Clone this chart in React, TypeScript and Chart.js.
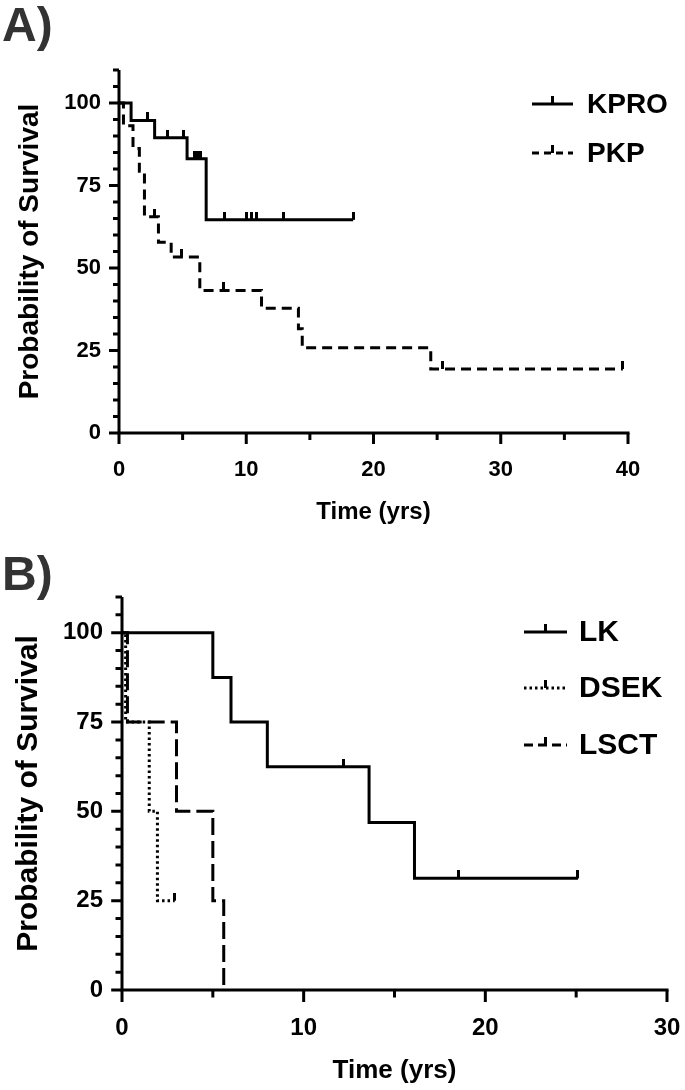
import React, { useEffect, useRef } from 'react';
import { Chart, registerables } from 'chart.js';

Chart.register(...registerables);

// ---------- Panel A data ----------
const kproTime = [0, 0.95, 2.8, 5.35, 6.85, 18.4];
const kproSurv = [100, 94.7, 89.5, 83.1, 64.6, 64.6];
const kproCensorTime = [2.25, 3.85, 5.1, 5.9, 6.15, 6.4, 8.3, 10.0, 10.4, 10.8, 12.9, 18.4];
const kproCensorSurv = [94.7, 89.5, 89.5, 83.1, 83.1, 83.1, 64.6, 64.6, 64.6, 64.6, 64.6, 64.6];

const pkpTime = [0, 0.35, 1.1, 1.6, 2.0, 3.1, 4.1, 6.35, 11.2, 14.1, 14.4, 24.5, 39.6];
const pkpSurv = [100, 93.1, 86.2, 79.3, 65.5, 57.8, 53.3, 43.2, 37.8, 31.6, 25.8, 19.4, 19.4];
const pkpCensorTime = [2.8, 4.9, 8.2, 25.4, 39.6];
const pkpCensorSurv = [65.5, 53.3, 43.2, 19.4, 19.4];

const xTicksA = [0, 10, 20, 30, 40];
const xMinorA = [5, 15, 25, 35];
const yTicks = [0, 25, 50, 75, 100];
const yMinor = [5, 10, 15, 20, 30, 35, 40, 45, 55, 60, 65, 70, 80, 85, 90, 95, 105, 110];
const legendA = ['KPRO', 'PKP'];

// ---------- Panel B data ----------
const lkTime = [0, 5.0, 6.0, 8.0, 13.6, 16.1, 25.1];
const lkSurv = [100, 87.5, 75, 62.5, 46.9, 31.25, 31.25];
const lkCensorTime = [12.2, 18.5, 25.1];
const lkCensorSurv = [62.5, 31.25, 31.25];

const dsekTime = [0, 0.2, 1.5, 1.95, 2.9];
const dsekSurv = [100, 75, 50, 25, 25];
const dsekCensorTime = [2.9];
const dsekCensorSurv = [25];

const lsctTime = [0, 0.3, 3.0, 5.0, 5.6];
const lsctSurv = [100, 75, 50, 25, 0];

const xTicksB = [0, 10, 20, 30];
const xMinorB = [5, 15, 25];
const legendB = ['LK', 'DSEK', 'LSCT'];

// ---------- styles ----------
const FONT = '"Liberation Sans", Arial, Helvetica, sans-serif';
const LW = 3;
const DASH_PKP = [10, 6];
const DASH_DSEK = [2.5, 3];
const DASH_LSCT = [17, 6];

function makeTick(): HTMLCanvasElement {
  const c = document.createElement('canvas');
  c.width = 3;
  c.height = 16;
  const g = c.getContext('2d')!;
  g.fillStyle = '#000';
  g.fillRect(0, 0, 3, 8);
  return c;
}

const pts = (t: number[], s: number[]) => t.map((x, i) => ({ x, y: s[i] }));

const axesPlugin = {
  id: 'kmAxes',
  afterDraw(chart: any, _args: any, opts: any) {
    const { ctx, chartArea } = chart;
    const xs = chart.scales.x;
    const ys = chart.scales.y;
    const k = opts.k || 1;
    ctx.save();
    ctx.strokeStyle = '#000';
    ctx.lineWidth = LW;
    ctx.lineCap = 'butt';
    ctx.setLineDash([]);
    ctx.beginPath();
    ctx.moveTo(chartArea.left, chartArea.top);
    ctx.lineTo(chartArea.left, chartArea.bottom + LW / 2);
    ctx.moveTo(chartArea.left - LW / 2, chartArea.bottom);
    ctx.lineTo(chartArea.right + LW / 2, chartArea.bottom);
    ctx.stroke();
    ctx.beginPath();
    for (const v of opts.yMajor) {
      const y = ys.getPixelForValue(v);
      ctx.moveTo(chartArea.left, y);
      ctx.lineTo(chartArea.left - 10 * k, y);
    }
    for (const v of opts.yMinor) {
      const y = ys.getPixelForValue(v);
      ctx.moveTo(chartArea.left, y);
      ctx.lineTo(chartArea.left - 6 * k, y);
    }
    for (const v of opts.xMajor) {
      const x = xs.getPixelForValue(v);
      ctx.moveTo(x, chartArea.bottom);
      ctx.lineTo(x, chartArea.bottom + 11 * k);
    }
    for (const v of opts.xMinor) {
      const x = xs.getPixelForValue(v);
      ctx.moveTo(x, chartArea.bottom);
      ctx.lineTo(x, chartArea.bottom + 7 * k);
    }
    ctx.stroke();
    ctx.restore();
  },
};

const legendPlugin = {
  id: 'kmLegend',
  afterDraw(chart: any, _args: any, opts: any) {
    const ctx = chart.ctx;
    ctx.save();
    opts.items.forEach((it: any) => {
      ctx.strokeStyle = '#000';
      ctx.lineWidth = LW;
      ctx.lineCap = 'butt';
      ctx.setLineDash(it.dash);
      ctx.beginPath();
      ctx.moveTo(opts.x0, it.y);
      ctx.lineTo(opts.x1, it.y);
      ctx.stroke();
      ctx.setLineDash([]);
      const xm = (opts.x0 + opts.x1) / 2;
      ctx.beginPath();
      ctx.moveTo(xm, it.y);
      ctx.lineTo(xm, it.y - 8);
      ctx.stroke();
      ctx.fillStyle = '#000';
      ctx.font = 'bold ' + opts.size + 'px ' + FONT;
      ctx.textBaseline = 'middle';
      ctx.textAlign = 'left';
      ctx.fillText(it.label, opts.tx, it.y + 1);
    });
    ctx.restore();
  },
};

function lineDs(label: string, t: number[], s: number[], dash: number[]) {
  return {
    label,
    data: pts(t, s),
    borderColor: '#000',
    borderWidth: LW,
    borderDash: dash,
    borderCapStyle: 'butt',
    borderJoinStyle: 'miter',
    stepped: 'before',
    pointRadius: 0,
    fill: false,
  };
}

function censorDs(t: number[], s: number[], tick: HTMLCanvasElement) {
  return {
    label: '',
    data: pts(t, s),
    showLine: false,
    pointStyle: tick,
    pointRadius: 3,
    borderColor: '#000',
    backgroundColor: '#000',
  };
}

function buildOptions(cfg: any) {
  const tickFont = { family: FONT, size: cfg.tickSize, weight: 'bold' as const };
  const xTitleFont = { family: FONT, size: cfg.xTitleSize, weight: 'bold' as const };
  const yTitleFont = { family: FONT, size: cfg.yTitleSize, weight: 'bold' as const };
  return {
    responsive: false,
    animation: false,
    layout: { padding: cfg.padding },
    plugins: {
      legend: { display: false },
      tooltip: { enabled: false },
      kmAxes: cfg.axes,
      kmLegend: cfg.legend,
    },
    scales: {
      x: {
        type: 'linear',
        min: cfg.xMin,
        max: cfg.xMax,
        afterBuildTicks: (s: any) => {
          s.ticks = cfg.axes.xMajor.map((v: number) => ({ value: v }));
        },
        afterFit: (s: any) => {
          s.height = cfg.xHeight;
          s.paddingLeft = 0;
          s.paddingRight = 0;
        },
        border: { display: false },
        grid: { display: false, drawTicks: false },
        ticks: { color: '#000', font: tickFont, padding: cfg.xTickPad, maxRotation: 0 },
        title: { display: true, text: 'Time (yrs)', color: '#000', font: xTitleFont, padding: { top: 4, bottom: 4 } },
      },
      y: {
        type: 'linear',
        min: 0,
        max: 110,
        afterBuildTicks: (s: any) => {
          s.ticks = cfg.axes.yMajor.map((v: number) => ({ value: v }));
        },
        afterFit: (s: any) => {
          s.width = cfg.yWidth;
          s.paddingTop = 0;
          s.paddingBottom = 0;
        },
        border: { display: false },
        grid: { display: false, drawTicks: false },
        ticks: { color: '#000', font: tickFont, padding: cfg.yTickPad },
        title: { display: true, text: 'Probability of Survival', color: '#000', font: yTitleFont, padding: { top: 4, bottom: 4 } },
      },
    },
  };
}

function PanelA() {
  const ref = useRef<HTMLCanvasElement>(null);
  useEffect(() => {
    const tick = makeTick();
    const chart = new Chart(ref.current!, {
      type: 'line',
      data: {
        datasets: [
          lineDs(legendA[1], pkpTime, pkpSurv, DASH_PKP),
          lineDs(legendA[0], kproTime, kproSurv, []),
          censorDs(pkpCensorTime, pkpCensorSurv, tick),
          censorDs(kproCensorTime, kproCensorSurv, tick),
        ] as any,
      },
      options: buildOptions({
        padding: { left: 9, top: 70, right: 57, bottom: 14 },
        xMin: 0,
        xMax: 40,
        xHeight: 98,
        yWidth: 110,
        tickSize: 22,
        xTitleSize: 24,
        yTitleSize: 28,
        xTickPad: 24,
        yTickPad: 18,
        axes: { xMajor: xTicksA, xMinor: xMinorA, yMajor: yTicks, yMinor: yMinor, k: 1 },
        legend: {
          x0: 532,
          x1: 573,
          tx: 587,
          size: 28,
          items: [
            { label: legendA[0], dash: [], y: 104 },
            { label: legendA[1], dash: [7, 5], y: 153 },
          ],
        },
      }) as any,
      plugins: [axesPlugin, legendPlugin],
    });
    return () => chart.destroy();
  }, []);
  return <canvas ref={ref} width={685} height={545} style={{ position: 'absolute', left: 0, top: 0 }} />;
}

function PanelB() {
  const ref = useRef<HTMLCanvasElement>(null);
  useEffect(() => {
    const tick = makeTick();
    const chart = new Chart(ref.current!, {
      type: 'line',
      data: {
        datasets: [
          lineDs(legendB[2], lsctTime, lsctSurv, DASH_LSCT),
          lineDs(legendB[1], dsekTime, dsekSurv, DASH_DSEK),
          lineDs(legendB[0], lkTime, lkSurv, []),
          censorDs(dsekCensorTime, dsekCensorSurv, tick),
          censorDs(lkCensorTime, lkCensorSurv, tick),
        ] as any,
      },
      options: buildOptions({
        padding: { left: 7, top: 52, right: 18, bottom: 0 },
        xMin: 0,
        xMax: 30,
        xHeight: 100,
        yWidth: 115,
        tickSize: 24,
        xTitleSize: 26,
        yTitleSize: 30,
        xTickPad: 24,
        yTickPad: 19,
        axes: { xMajor: xTicksB, xMinor: xMinorB, yMajor: yTicks, yMinor: yMinor, k: 1.08 },
        legend: {
          x0: 524,
          x1: 567,
          tx: 579,
          size: 30,
          items: [
            { label: legendB[0], dash: [], y: 87 },
            { label: legendB[1], dash: [2.5, 3], y: 143 },
            { label: legendB[2], dash: [9, 5], y: 200 },
          ],
        },
      }) as any,
      plugins: [axesPlugin, legendPlugin],
    });
    return () => chart.destroy();
  }, []);
  return <canvas ref={ref} width={685} height={545} style={{ position: 'absolute', left: 0, top: 545 }} />;
}

const panelLabel: React.CSSProperties = {
  position: 'absolute',
  left: 2,
  fontFamily: FONT,
  fontWeight: 'bold',
  fontSize: 48,
  lineHeight: 1,
  color: '#333',
  whiteSpace: 'nowrap',
};

export default function App() {
  return (
    <div style={{ position: 'absolute', left: 0, top: 0, width: 685, height: 1090, background: '#fff', overflow: 'hidden' }}>
      <PanelA />
      <PanelB />
      <div style={{ ...panelLabel, top: 1 }}>A)</div>
      <div style={{ ...panelLabel, top: 550 }}>B)</div>
    </div>
  );
}
